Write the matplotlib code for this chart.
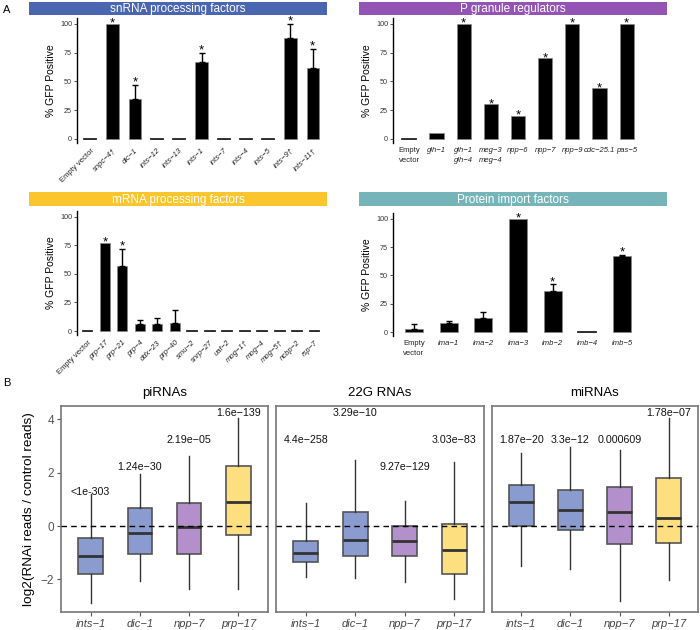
import matplotlib
matplotlib.use('Agg')
import matplotlib.pyplot as plt
from matplotlib.patches import Rectangle

plt.rcParams['font.family'] = ['Liberation Sans', 'DejaVu Sans']

W, H = 700, 630

# ---- panel A data ----
sn_labels = ['Empty vector', 'snpc\u22124\u2020', 'dic\u22121', 'ints\u221212', 'ints\u221213', 'ints\u22121',
             'ints\u22127', 'ints\u22124', 'ints\u22125', 'ints\u22129\u2020', 'ints\u221211\u2020']
sn_values = [0, 100, 35, 0, 0, 67, 0, 0, 0, 88, 62]
sn_err = [0, 0, 12, 0, 0, 8, 0, 0, 0, 12, 16]
sn_star = [0, 1, 1, 0, 0, 1, 0, 0, 0, 1, 1]

pg_labels = ['Empty\nvector', 'glh\u22121', 'glh\u22121\nglh\u22124', 'meg\u22123\nmeg\u22124', 'npp\u22126',
             'npp\u22127', 'npp\u22129', 'cdc\u221225.1', 'pas\u22125']
pg_values = [0, 5, 100, 30, 20, 70, 100, 44, 100]
pg_err = [0, 0, 0, 0, 0, 0, 0, 0, 0]
pg_star = [0, 0, 1, 1, 1, 1, 1, 1, 1]

mr_labels = ['Empty vector', 'prp\u221217', 'prp\u221221', 'prp\u22124', 'ddx\u221223', 'prp\u221240', 'smu\u22122',
             'snrp\u221227', 'uaf\u22122', 'mog\u22121\u2020', 'mog\u22124', 'mog\u22125\u2020', 'ncbp\u22122', 'rsp\u22127']
mr_values = [0, 77, 57, 6, 6, 7, 0, 0, 0, 0, 0, 0, 0, 0]
mr_err = [0, 0, 15, 4, 5, 11, 0, 0, 0, 0, 0, 0, 0, 0]
mr_star = [0, 1, 1, 0, 0, 0, 0, 0, 0, 0, 0, 0, 0, 0]

pi_labels = ['Empty\nvector', 'ima\u22121', 'ima\u22122', 'ima\u22123', 'imb\u22122', 'imb\u22124', 'imb\u22125']
pi_values = [3, 8, 12, 100, 36, 0, 67]
pi_err = [4, 2, 6, 0, 6, 0, 1]
pi_star = [0, 0, 0, 1, 1, 0, 1]

# ---- panel B data ----
genes = ['ints\u22121', 'dic\u22121', 'npp\u22127', 'prp\u221217']
box_colors = ['#8a9bcf', '#8a9bcf', '#b38fcc', '#fedf80']

piRNA_q1 = [-1.80, -1.06, -1.06, -0.34]
piRNA_med = [-1.12, -0.27, -0.05, 0.90]
piRNA_q3 = [-0.46, 0.66, 0.86, 2.27]
piRNA_lo = [-2.90, -2.06, -2.37, -2.34]
piRNA_hi = [1.22, 1.95, 2.64, 4.06]
piRNA_p = ['<1e-303', '1.24e\u221230', '2.19e\u221205', '1.6e\u2212139']
piRNA_py = [1.27, 2.22, 3.22, 4.22]

g22_q1 = [-1.34, -1.12, -1.12, -1.80]
g22_med = [-1.02, -0.51, -0.55, -0.89]
g22_q3 = [-0.56, 0.51, 0.0, 0.07]
g22_lo = [-1.90, -1.94, -2.11, -2.75]
g22_hi = [0.87, 2.46, 0.95, 2.39]
g22_p = ['4.4e\u2212258', '3.29e\u221210', '9.27e\u2212129', '3.03e\u221283']
g22_py = [3.22, 4.22, 2.22, 3.22]

mi_q1 = [0.01, -0.15, -0.66, -0.64]
mi_med = [0.90, 0.60, 0.54, 0.31]
mi_q3 = [1.54, 1.35, 1.45, 1.81]
mi_lo = [-1.49, -1.61, -2.81, -2.03]
mi_hi = [2.75, 2.95, 2.84, 4.06]
mi_p = ['1.87e\u221220', '3.3e\u221212', '0.000609', '1.78e\u221207']
mi_py = [3.22, 3.22, 3.22, 4.22]


def px_axes(fig, x0, y0, x1, y1):
    return fig.add_axes([x0 / W, 1 - y1 / H, (x1 - x0) / W, (y1 - y0) / H])


fig = plt.figure(figsize=(7, 6.3), dpi=100)


def band(x0, y0, x1, y1, color, title):
    fig.patches.append(Rectangle((x0 / W, 1 - y1 / H), (x1 - x0) / W, (y1 - y0) / H,
                                 transform=fig.transFigure, facecolor=color, edgecolor='none'))
    fig.text((x0 + x1) / 2 / W, 1 - (y0 + y1) / 2 / H - 0.001, title, color='white',
             ha='center', va='center', fontsize=8.5)


def bar_panel(rect, labels, values, err, star, width, rotate):
    ax = px_axes(fig, *rect)
    n = len(values)
    x = list(range(n))
    ax.bar(x, values, width=width, color='black', edgecolor='#888888', linewidth=0.5)
    for i in range(n):
        if values[i] == 0:
            ax.plot([i - width / 2, i + width / 2], [0, 0], color='#222222', lw=1.3)
    has = [i for i in range(n) if err[i] > 0]
    if has:
        ax.errorbar([x[i] for i in has], [values[i] for i in has],
                    yerr=[[0] * len(has), [err[i] for i in has]],
                    fmt='none', ecolor='black', elinewidth=1.0, capsize=2, capthick=1.0)
    for i in range(n):
        if star[i]:
            off = -2.5 if err[i] == 0 else -0.5
            ax.text(i, values[i] + err[i] + off, '*', ha='center', va='baseline',
                    fontsize=9.5, clip_on=False, zorder=10)
    ax.set_xlim(-0.6, n - 0.4)
    ax.set_ylim(-3.5, 105)
    ax.set_yticks([0, 25, 50, 75, 100])
    ax.tick_params(axis='y', labelsize=5.2, length=2, width=0.6, pad=1.5, colors='#333333')
    ax.tick_params(axis='x', length=0, pad=3)
    ax.set_xticks(x)
    if rotate:
        ax.set_xticklabels(labels, rotation=45, ha='right', rotation_mode='anchor', fontsize=5.5)
    else:
        ax.set_xticklabels(labels, fontsize=5.5, linespacing=1.5, va='top')
    for t in ax.get_xticklabels():
        t.set_color('#222222')
        if not t.get_text().startswith('Empty'):
            t.set_style('italic')
    for s in ['top', 'right', 'bottom']:
        ax.spines[s].set_visible(False)
    ax.spines['left'].set_linewidth(1.0)
    ax.set_ylabel('% GFP Positive', fontsize=7.5, labelpad=3)
    return ax


band(29, 2, 327, 15, '#4a66b0', 'snRNA processing factors')
band(359, 2, 667, 15, '#9454b4', 'P granule regulators')
band(29, 192, 327, 206, '#fbc52e', 'mRNA processing factors')
band(359, 192, 667, 206, '#75b5ba', 'Protein import factors')

bar_panel((77, 18, 326, 143), sn_labels, sn_values, sn_err, sn_star, 0.55, True)
bar_panel((393, 18, 643, 143), pg_labels, pg_values, pg_err, pg_star, 0.52, False)
bar_panel((77, 211, 325, 335), mr_labels, mr_values, mr_err, mr_star, 0.57, True)
bar_panel((393, 213, 643, 336), pi_labels, pi_values, pi_err, pi_star, 0.52, False)


def box_panel(rect, title, q1, med, q3, lo, hi, ptxt, py, first):
    ax = px_axes(fig, *rect)
    stats = []
    for i in range(4):
        stats.append({'med': med[i], 'q1': q1[i], 'q3': q3[i], 'whislo': lo[i], 'whishi': hi[i], 'fliers': []})
    bp = ax.bxp(stats, positions=[1, 2, 3, 4], widths=0.5, patch_artist=True, showcaps=False,
                boxprops=dict(edgecolor='#555555', linewidth=1.2),
                medianprops=dict(color='#333333', linewidth=2.0),
                whiskerprops=dict(color='#333333', linewidth=1.0))
    for patch, c in zip(bp['boxes'], box_colors):
        patch.set_facecolor(c)
    ax.axhline(0, color='black', lw=1.0, ls=(0, (4, 3)), zorder=5)
    for i in range(4):
        ax.text(i + 1, py[i], ptxt[i], ha='center', va='center', fontsize=7.7, color='#111111')
    ax.set_xlim(0.4, 4.6)
    ax.set_ylim(-3.22, 4.5)
    ax.set_xticks([1, 2, 3, 4])
    ax.set_xticklabels(genes, fontsize=8, style='italic', color='#444444')
    ax.tick_params(axis='x', length=3, color='#555555', pad=2)
    if first:
        ax.set_yticks([-2, 0, 2, 4])
        ax.set_yticklabels(['\u22122', '0', '2', '4'])
        ax.tick_params(axis='y', labelsize=8.5, colors='#555555', length=3, pad=2)
        ax.set_ylabel('log2(RNAi reads / control reads)', fontsize=9.7, labelpad=4)
    else:
        ax.set_yticks([])
    for s in ax.spines.values():
        s.set_color('#777777')
        s.set_linewidth(1.2)
    ax.set_title(title, fontsize=9.5, pad=7)
    return ax


box_panel((61, 406, 268, 612), 'piRNAs', piRNA_q1, piRNA_med, piRNA_q3, piRNA_lo, piRNA_hi, piRNA_p, piRNA_py, True)
box_panel((276, 406, 484, 612), '22G RNAs', g22_q1, g22_med, g22_q3, g22_lo, g22_hi, g22_p, g22_py, False)
box_panel((492, 406, 698, 612), 'miRNAs', mi_q1, mi_med, mi_q3, mi_lo, mi_hi, mi_p, mi_py, False)

fig.text(3 / W, 1 - 10 / H, 'A', fontsize=8, va='center')
fig.text(3 / W, 1 - 383 / H, 'B', fontsize=8, va='center')

fig.savefig('out.png', dpi=100)
